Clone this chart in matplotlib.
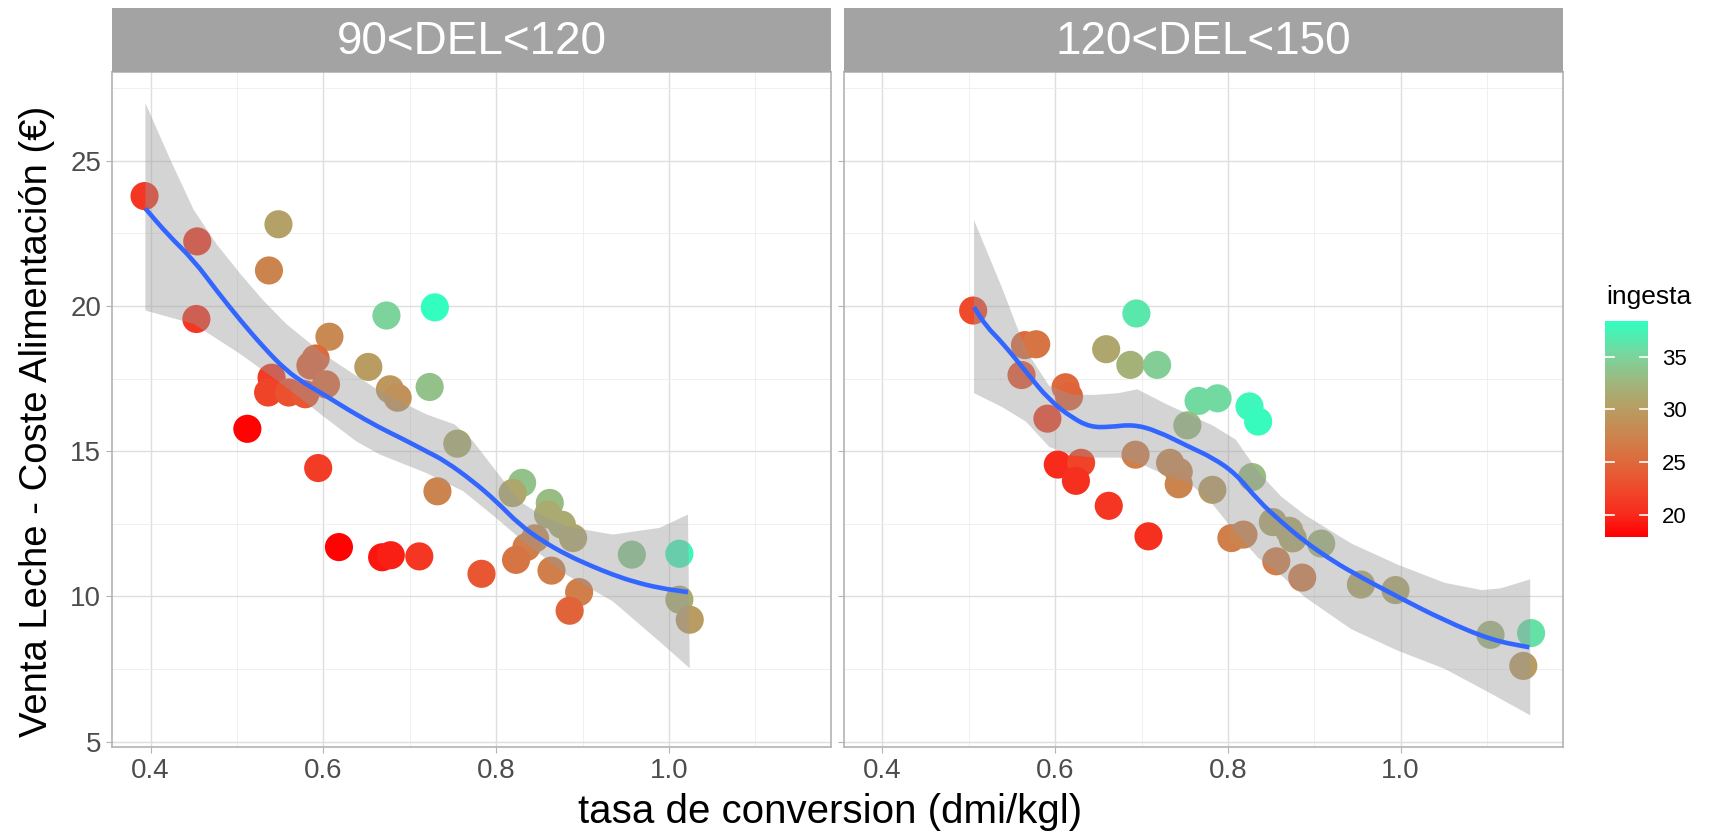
import numpy as np
import matplotlib
matplotlib.use("Agg")
import matplotlib.pyplot as plt
from matplotlib.colors import LinearSegmentedColormap, Normalize
from matplotlib.path import Path
from matplotlib.patches import PathPatch

plt.rcParams['font.family'] = ['Liberation Sans', 'DejaVu Sans']

# ---------------- data ----------------
panels = ["90<DEL<120", "120<DEL<150"]

x1 = [0.393, 0.454, 0.548, 0.537, 0.453, 0.673, 0.729, 0.607, 0.591, 0.585, 0.652,
      0.540, 0.536, 0.560, 0.579, 0.603, 0.677, 0.686, 0.723, 0.512, 0.755, 0.594,
      0.830, 0.819, 0.732, 0.862, 0.860, 0.876, 0.889, 0.845, 0.835, 0.823, 0.957,
      1.012, 0.618, 0.668, 0.678, 0.711, 0.783, 0.864, 0.896, 0.885, 1.012, 1.024]
y1 = [23.78, 22.22, 22.81, 21.22, 19.55, 19.67, 19.95, 18.94, 18.19, 17.95, 17.90,
      17.53, 17.02, 17.02, 16.96, 17.30, 17.13, 16.84, 17.21, 15.77, 15.26, 14.42,
      13.91, 13.56, 13.62, 13.22, 12.82, 12.47, 12.01, 12.00, 11.70, 11.26, 11.44,
      11.47, 11.70, 11.35, 11.42, 11.38, 10.78, 10.89, 10.15, 9.51, 9.89, 9.20]
c1 = [21.0, 21.5, 30.5, 27.5, 21.0, 35.0, 38.3, 28.0, 25.0, 24.5, 30.0,
      21.5, 22.0, 23.0, 23.5, 25.0, 29.5, 29.0, 33.5, 18.0, 31.5, 21.5,
      33.5, 31.0, 27.5, 33.0, 31.5, 31.5, 31.0, 28.5, 27.0, 26.0, 34.0,
      37.5, 18.0, 19.0, 19.5, 21.0, 23.5, 27.0, 27.0, 24.5, 31.5, 30.0]

x2 = [0.505, 0.694, 0.565, 0.578, 0.659, 0.687, 0.718, 0.561, 0.612, 0.616, 0.591,
      0.766, 0.788, 0.825, 0.835, 0.753, 0.693, 0.603, 0.630, 0.624, 0.733, 0.743,
      0.743, 0.782, 0.828, 0.662, 0.708, 0.804, 0.818, 0.852, 0.871, 0.875, 0.908,
      0.856, 0.886, 0.954, 0.994, 1.104, 1.151, 1.142]
y2 = [19.84, 19.74, 18.65, 18.68, 18.51, 17.97, 17.97, 17.62, 17.20, 16.88, 16.12,
      16.73, 16.82, 16.54, 16.02, 15.89, 14.88, 14.54, 14.60, 13.98, 14.60, 14.29,
      13.86, 13.67, 14.11, 13.12, 12.07, 12.01, 12.13, 12.56, 12.26, 12.00, 11.82,
      11.21, 10.65, 10.41, 10.22, 8.68, 8.74, 7.61]
c2 = [22.5, 36.5, 25.0, 26.0, 31.0, 32.0, 34.5, 23.5, 25.0, 24.5, 22.0,
      35.5, 35.5, 37.8, 38.0, 33.0, 27.0, 20.0, 22.0, 20.5, 28.0, 28.0,
      27.5, 30.0, 33.0, 21.0, 20.5, 27.0, 27.5, 31.0, 31.0, 31.0, 32.5,
      27.0, 27.0, 31.0, 31.0, 32.5, 36.0, 30.0]

# smooth (loess) line and its confidence band
line1_x = [0.394, 0.42, 0.45, 0.477, 0.504, 0.53, 0.557, 0.58, 0.6, 0.63, 0.665, 0.69,
           0.719, 0.741, 0.773, 0.8, 0.827, 0.854, 0.881, 0.91, 0.935, 0.96, 0.989, 1.022]
line1_y = [23.35, 22.45, 21.57, 20.5, 19.5, 18.6, 17.77, 17.3, 16.96, 16.4, 15.81, 15.45,
           15.0, 14.66, 13.97, 13.28, 12.47, 11.9, 11.44, 11.05, 10.75, 10.5, 10.29, 10.15]
up1_x = [0.394, 0.423, 0.45, 0.477, 0.504, 0.53, 0.557, 0.6, 0.665, 0.719, 0.752, 0.773,
         0.8, 0.827, 0.854, 0.881, 0.935, 0.989, 1.022]
up1_y = [26.98, 25.02, 23.3, 22.1, 21.1, 20.2, 19.38, 18.34, 17.07, 16.27, 15.92, 15.35,
         14.31, 13.28, 12.76, 12.41, 12.13, 12.36, 12.82]
lo1_x = [0.394, 0.45, 0.504, 0.557, 0.6, 0.638, 0.665, 0.719, 0.762, 0.8, 0.827, 0.881,
         0.935, 0.989, 1.024]
lo1_y = [19.84, 19.38, 18.34, 17.2, 16.2, 15.34, 14.89, 14.25, 13.62, 12.70, 12.01, 10.75,
         9.83, 8.45, 7.53]

line2_x = [0.506, 0.52, 0.539, 0.566, 0.593, 0.62, 0.641, 0.663, 0.69, 0.717, 0.755, 0.782,
           0.809, 0.835, 0.862, 0.889, 0.916, 0.943, 0.997, 1.051, 1.105, 1.149]
line2_y = [19.96, 19.3, 18.73, 17.74, 16.76, 16.14, 15.83, 15.83, 15.92, 15.71, 15.15, 14.78,
           14.23, 13.30, 12.56, 11.89, 11.33, 10.84, 9.98, 9.17, 8.50, 8.25]
up2_x = [0.506, 0.539, 0.566, 0.593, 0.62, 0.647, 0.674, 0.695, 0.728, 0.755, 0.782, 0.809,
         0.835, 0.862, 0.889, 0.943, 0.997, 1.051, 1.094, 1.116, 1.15]
up2_y = [22.95, 20.58, 18.48, 17.25, 16.94, 16.94, 17.0, 17.13, 16.63, 16.26, 15.89, 15.4,
         14.29, 13.43, 12.81, 11.82, 11.09, 10.47, 10.22, 10.28, 10.59]
lo2_x = [0.506, 0.539, 0.566, 0.593, 0.62, 0.647, 0.674, 0.701, 0.728, 0.755, 0.782, 0.809,
         0.835, 0.862, 0.889, 0.943, 0.997, 1.051, 1.105, 1.15]
lo2_y = [17.0, 16.51, 16.02, 15.15, 14.85, 14.78, 14.78, 14.54, 14.17, 13.92, 13.18, 12.19,
         11.33, 10.72, 9.98, 8.87, 8.13, 7.51, 6.65, 5.91]

x_ticks = [0.4, 0.6, 0.8, 1.0]
x_tick_labels = ["0.4", "0.6", "0.8", "1.0"]
y_ticks = [5, 10, 15, 20, 25]
cbar_ticks = [20, 25, 30, 35]
c_min, c_max = 17.9, 38.4

# colour stops of the legend bar, as seen in the picture (value, colour)
stop_vals = [17.9, 20.0, 22.5, 25.0, 27.5, 30.0, 32.5, 35.0, 38.4]
stop_cols = ['#FF0000', '#F82A1C', '#EE4A2C', '#DE693C', '#CC844E', '#B89C62',
             '#A0B67C', '#7DD39C', '#30FFC0']

cmap = LinearSegmentedColormap.from_list(
    'ingesta', [((v - c_min) / (c_max - c_min), c) for v, c in zip(stop_vals, stop_cols)])
norm = Normalize(vmin=c_min, vmax=c_max)

# ---------------- figure ----------------
W, H = 1724, 833
fig = plt.figure(figsize=(W / 100, H / 100), dpi=100)

def fx(px):
    return px / W

def fy(py):
    return 1 - py / H

ax_top, ax_bot = 72, 746.7
ax_lefts = [(112.4, 831.0), (844.3, 1562.6)]
strip_top = 7.5

xlim = (0.3558, 1.1875)
ylim = (4.83, 28.05)

grid_c = '#DEDEDE'
border_c = '#B3B3B3'

data = [(x1, y1, c1, line1_x, line1_y, up1_x, up1_y, lo1_x, lo1_y),
        (x2, y2, c2, line2_x, line2_y, up2_x, up2_y, lo2_x, lo2_y)]


def smooth_path(xs, ys):
    # quadratic Bezier segments through the midpoints of the read points
    pts = np.column_stack([xs, ys])
    verts = [pts[0]]
    codes = [Path.MOVETO]
    mids = (pts[:-1] + pts[1:]) / 2
    verts.append(mids[0]); codes.append(Path.LINETO)
    for k in range(1, len(pts) - 1):
        verts.extend([pts[k], mids[k]])
        codes.extend([Path.CURVE3, Path.CURVE3])
    verts.append(pts[-1]); codes.append(Path.LINETO)
    return Path(verts, codes)


sc = None
for i, (l, r) in enumerate(ax_lefts):
    ax = fig.add_axes([fx(l), fy(ax_bot), fx(r - l), (ax_bot - ax_top) / H])
    xs, ys, cs, lx, ly, ux, uy, dx, dy = data[i]
    ax.set_xlim(*xlim)
    ax.set_ylim(*ylim)
    ax.set_xticks(x_ticks)
    ax.set_xticklabels(x_tick_labels)
    ax.set_xticks([0.5, 0.7, 0.9, 1.1], minor=True)
    ax.set_yticks(y_ticks)
    ax.set_yticks([7.5, 12.5, 17.5, 22.5, 27.5], minor=True)
    if i == 0:
        ax.set_yticklabels([str(v) for v in y_ticks])
    else:
        ax.set_yticklabels([])
        ax.tick_params(axis='y', which='major', length=0)
    ax.grid(True, which='major', color=grid_c, lw=1.0, zorder=0)
    ax.grid(True, which='minor', color='#EDEDED', lw=0.6, zorder=0)
    ax.set_axisbelow(True)
    ax.tick_params(axis='both', which='major', labelsize=20, colors='#4D4D4D',
                   length=4, width=0.8, pad=4)
    ax.tick_params(axis='both', which='major', color=border_c)
    ax.tick_params(axis='both', which='minor', length=0)
    for s in ax.spines.values():
        s.set_color(border_c)
        s.set_linewidth(1.2)

    # points first, then the confidence ribbon over them, then the line
    sc = ax.scatter(xs, ys, c=cs, cmap=cmap, norm=norm, s=410, alpha=1.0,
                    linewidths=0, zorder=2)
    px = np.concatenate([ux, dx[::-1]])
    py = np.concatenate([uy, dy[::-1]])
    ax.fill(px, py, color='#999999', alpha=0.42, lw=0, zorder=3)
    ax.add_patch(PathPatch(smooth_path(lx, ly), facecolor='none', edgecolor='#3366FF',
                           lw=3.3, zorder=4, capstyle='butt'))

    # strip
    sax = fig.add_axes([fx(l), fy(ax_top), fx(r - l), (ax_top - strip_top) / H])
    sax.set_facecolor('#A3A3A3')
    sax.set_xticks([])
    sax.set_yticks([])
    for s in sax.spines.values():
        s.set_visible(False)
    sax.text(0.5, 0.47, panels[i], color='white', fontsize=33, ha='center', va='center',
             transform=sax.transAxes)

# axis titles
fig.text(fx(830), fy(812), "tasa de conversion (dmi/kgl)",
         fontsize=29, ha='center', va='center', color='black')
fig.text(fx(37), fy(421), "Venta Leche - Coste Alimentación (€)",
         fontsize=27.5, ha='center', va='center', rotation=90, color='black')

# colourbar legend
cax = fig.add_axes([fx(1605), fy(536.7), fx(1648.3 - 1605), (536.7 - 320.7) / H])
cb = fig.colorbar(sc, cax=cax, ticks=cbar_ticks)
cb.outline.set_visible(False)
cax.tick_params(length=0, labelsize=16, pad=10, colors='black')
for v in cbar_ticks:
    cax.axhline(v, xmin=0, xmax=0.2, color='white', lw=1.2)
    cax.axhline(v, xmin=0.8, xmax=1.0, color='white', lw=1.2)
fig.text(fx(1606), fy(297), "ingesta", fontsize=19, ha='left', va='center')

fig.savefig("out.png", dpi=100, facecolor='white')
